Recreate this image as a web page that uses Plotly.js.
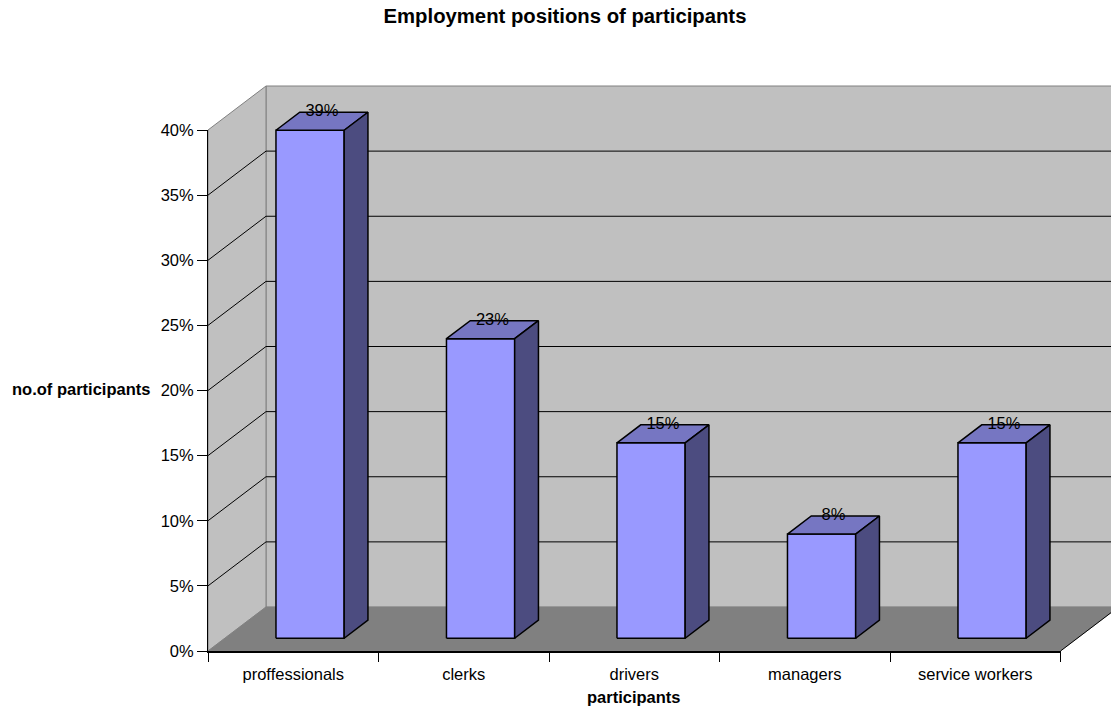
<!DOCTYPE html>
<html>
<head>
<meta charset="utf-8">
<script src="https://cdn.plot.ly/plotly-3.0.1.min.js"></script>
<style>html,body{margin:0;padding:0;background:#fff;}#chart{width:1111px;height:710px;}</style>
</head>
<body>
<div id="chart"></div>
<script>
// ---- data ----
const categories = ['proffessionals', 'clerks', 'drivers', 'managers', 'service workers'];
const values = [39, 23, 15, 8, 15];
const yTickVals = [0, 5, 10, 15, 20, 25, 30, 35, 40];
const yTickText = ['0%', '5%', '10%', '15%', '20%', '25%', '30%', '35%', '40%'];
const barLabels = ['39%', '23%', '15%', '8%', '15%'];

// ---- geometry (pixels -> axis units) ----
const W = 1111, H = 710, L = 208, B = 651, T = 80;
const PX_PER_CAT = 170.5, PX_PER_PCT = 13.025;
const plotW = W - L, plotH = B - T;
const xMax = plotW / PX_PER_CAT, yMax = plotH / PX_PER_PCT;
const DX = 58 / PX_PER_CAT, DY = 44 / PX_PER_PCT;   // oblique depth offset
const BAR_W = 0.4, D0 = 0.29, DD = 0.41;            // bar width, front depth, bar depth
const WALL_TOP = 40;
const N = categories.length;
const FONT = 'Liberation Sans, Arial, sans-serif';

const traces = [];
// back wall
traces.push({type:'scatter', mode:'lines', x:[DX, N+DX, N+DX, DX, DX], y:[DY, DY, WALL_TOP+DY, WALL_TOP+DY, DY],
  fill:'toself', fillcolor:'#C0C0C0', line:{color:'#808080', width:1}, hoverinfo:'skip'});
// left wall
traces.push({type:'scatter', mode:'lines', x:[0, DX, DX, 0, 0], y:[0, DY, WALL_TOP+DY, WALL_TOP, 0],
  fill:'toself', fillcolor:'#C0C0C0', line:{color:'#808080', width:1}, hoverinfo:'skip'});
// floor
traces.push({type:'scatter', mode:'lines', x:[0, N, N+DX, DX, 0], y:[0, 0, DY, DY, 0],
  fill:'toself', fillcolor:'#808080', line:{color:'#808080', width:0.5}, hoverinfo:'skip'});
// gridlines on walls
const gx = [], gy = [];
yTickVals.filter(v => v > 0 && v < WALL_TOP).forEach(v => {
  gx.push(0, DX, N+DX, null); gy.push(v, v+DY, v+DY, null);
});
traces.push({type:'scatter', mode:'lines', x:gx, y:gy, line:{color:'#000', width:1}, hoverinfo:'skip'});
// floor right edge
traces.push({type:'scatter', mode:'lines', x:[N, N+DX], y:[0, DY], line:{color:'#000', width:1}, hoverinfo:'skip'});

// bars: front, top and side faces
const xFront = values.map((v, i) => i + 0.5 + D0*DX);
const fx = [], fy = [], tx = [], ty = [], sx = [], sy = [];
values.forEach((v, i) => {
  const l0 = xFront[i] - BAR_W/2, r0 = xFront[i] + BAR_W/2;
  const b0 = D0*DY, t0 = v + D0*DY;
  const ox = DD*DX, oy = DD*DY;
  fx.push(l0, r0, r0, l0, l0, null); fy.push(b0, b0, t0, t0, b0, null);
  tx.push(l0, r0, r0+ox, l0+ox, l0, null); ty.push(t0, t0, t0+oy, t0+oy, t0, null);
  sx.push(r0, r0+ox, r0+ox, r0, r0, null); sy.push(b0, b0+oy, t0+oy, t0, b0, null);
});
traces.push({type:'scatter', mode:'lines', x:fx, y:fy, fill:'toself', fillcolor:'#9999FF',
  line:{color:'#000', width:1.5}, hoverinfo:'skip'});
traces.push({type:'scatter', mode:'lines', x:tx, y:ty, fill:'toself', fillcolor:'#7676C2',
  line:{color:'#000', width:1.5}, hoverinfo:'skip'});
traces.push({type:'scatter', mode:'lines', x:sx, y:sy, fill:'toself', fillcolor:'#4C4C80',
  line:{color:'#000', width:1.5}, hoverinfo:'skip'});
// bar value labels
traces.push({type:'scatter', mode:'text', x:xFront.map(x => x + DD*DX/2), y:values.map(v => v + (D0+DD)*DY),
  text:barLabels, textposition:'middle center', textfont:{family:FONT, size:16.5, color:'#000'},
  cliponaxis:false, hoverinfo:'skip'});
// invisible trace carrying the front axes
traces.push({type:'scatter', mode:'markers', x:categories, y:values, xaxis:'x2', yaxis:'y2',
  marker:{opacity:0}, hoverinfo:'skip'});

const layout = {
  width:W, height:H,
  margin:{l:L, r:W-L-plotW, t:T, b:H-B, pad:0},
  paper_bgcolor:'#fff', plot_bgcolor:'rgba(0,0,0,0)',
  showlegend:false, hovermode:false,
  font:{family:FONT, size:16.5, color:'#000'},
  title:{text:'<b>Employment positions of participants</b>', font:{family:FONT, size:20.3, color:'#000'},
    xref:'container', x:565/W, xanchor:'center', yref:'container', y:1-16/H, yanchor:'middle'},
  xaxis:{range:[0, xMax], visible:false, fixedrange:true},
  yaxis:{range:[0, yMax], visible:false, fixedrange:true},
  xaxis2:{type:'category', categoryorder:'array', categoryarray:categories, range:[-0.5, N-0.5],
    domain:[0, N/xMax], anchor:'y2', tickson:'boundaries', ticks:'outside', ticklen:9, tickwidth:1,
    tickcolor:'#000', showline:true, linecolor:'#000', linewidth:1.5, showgrid:false, zeroline:false,
    ticklabelstandoff:8,
    tickfont:{family:FONT, size:16.5, color:'#000'}, fixedrange:true},
  yaxis2:{range:[0, WALL_TOP], domain:[0, WALL_TOP/yMax], anchor:'x2', tickvals:yTickVals, ticktext:yTickText,
    ticks:'outside', ticklen:10, tickwidth:1, tickcolor:'#000', showline:true, linecolor:'#000', linewidth:1,
    showgrid:false, zeroline:false, tickfont:{family:FONT, size:16.5, color:'#000'}, fixedrange:true},
  annotations:[
    {text:'<b>no.of participants</b>', xref:'paper', yref:'paper', x:(152-L)/plotW, y:(B-389)/plotH,
      xanchor:'right', yanchor:'middle', showarrow:false, font:{family:FONT, size:16.5, color:'#000'}},
    {text:'<b>participants</b>', xref:'paper', yref:'paper', x:(634-L)/plotW, y:(B-697)/plotH,
      xanchor:'center', yanchor:'middle', showarrow:false, font:{family:FONT, size:16.5, color:'#000'}}
  ]
};

Plotly.newPlot('chart', traces, layout, {displayModeBar:false, staticPlot:true});
</script>
</body>
</html>
